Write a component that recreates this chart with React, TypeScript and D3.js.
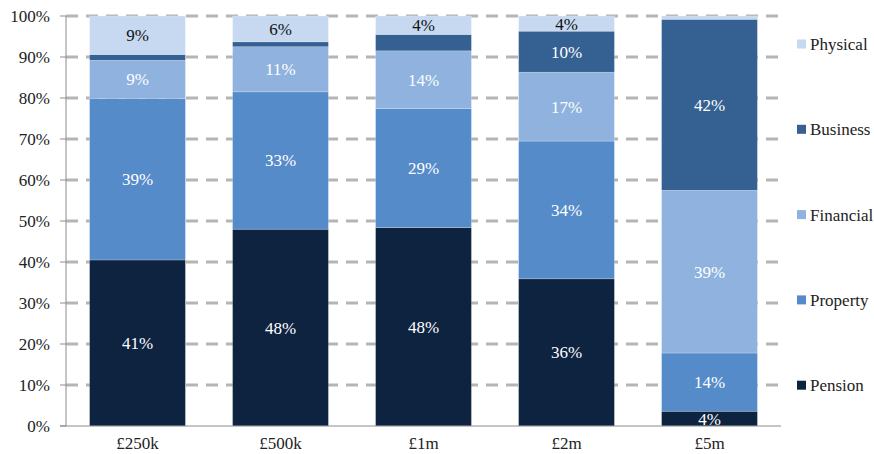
import * as d3 from "d3";

// --- Data ---
const categories = ["£250k", "£500k", "£1m", "£2m", "£5m"];
const seriesNames = ["Pension", "Property", "Financial", "Business", "Physical"];

const pension = [40.5, 48.0, 48.4, 35.9, 3.6];
const property = [39.4, 33.5, 29.0, 33.6, 14.2];
const financial = [9.3, 11.0, 14.1, 16.8, 39.7];
const business = [1.4, 1.2, 4.0, 10.0, 41.7];
const physical = [9.4, 6.3, 4.5, 3.7, 0.8];

// segment labels as printed on the chart ("" = not labelled)
const pensionLabels = ["41%", "48%", "48%", "36%", "4%"];
const propertyLabels = ["39%", "33%", "29%", "34%", "14%"];
const financialLabels = ["9%", "11%", "14%", "17%", "39%"];
const businessLabels = ["", "", "", "10%", "42%"];
const physicalLabels = ["9%", "6%", "4%", "4%", ""];

const yTicks = [0, 10, 20, 30, 40, 50, 60, 70, 80, 90, 100];

const COLORS: Record<string, string> = {
  Pension: "#0e2340",
  Property: "#568bc9",
  Financial: "#8fb3de",
  Business: "#356092",
  Physical: "#c6d9f0",
};

const W = 874;
const H = 454;
const PLOT = { left: 66, right: 781, top: 16, bottom: 426 };
const FONT = "Liberation Serif";
const FONT_STYLE = { fontFamily: '"Liberation Serif"' };
const FS = 17;

export default function App() {
  const values: Record<string, number[]> = {
    Pension: pension,
    Property: property,
    Financial: financial,
    Business: business,
    Physical: physical,
  };
  const labels: Record<string, string[]> = {
    Pension: pensionLabels,
    Property: propertyLabels,
    Financial: financialLabels,
    Business: businessLabels,
    Physical: physicalLabels,
  };

  const rows = categories.map((c, i) => {
    const row: Record<string, number | string> = { cat: c };
    seriesNames.forEach((s) => (row[s] = values[s][i]));
    return row;
  });

  const stacked = d3.stack<any>().keys(seriesNames)(rows);

  const x = d3
    .scaleBand<string>()
    .domain(categories)
    .range([PLOT.left, PLOT.right])
    .paddingInner(0.33)
    .paddingOuter(0.165);

  const y = d3.scaleLinear().domain([0, 100]).range([PLOT.bottom, PLOT.top]);

  return (
    <svg width={W} height={H} style={{ position: "absolute", left: 0, top: 0 }}>
      <style>{`text { font-family: "Liberation Serif", "Times New Roman", Times, serif; }`}</style>
      {/* gridlines */}
      {yTicks
        .filter((t) => t > 0)
        .map((t) => (
          <line
            key={"g" + t}
            x1={PLOT.left}
            x2={PLOT.right}
            y1={y(t)}
            y2={y(t)}
            stroke="#b5b5b5"
            strokeWidth={3}
            strokeDasharray="12 8"
          />
        ))}

      {/* bars */}
      {stacked.map((layer) => (
        <g key={layer.key} fill={COLORS[layer.key]}>
          {layer.map((d, i) => (
            <rect
              key={i}
              x={x(categories[i])}
              y={y(d[1])}
              width={x.bandwidth()}
              height={y(d[0]) - y(d[1])}
              stroke="#ffffff"
              strokeOpacity={0.35}
              strokeWidth={0.6}
            />
          ))}
        </g>
      ))}

      {/* data labels */}
      {stacked.map((layer) =>
        layer.map((d, i) => {
          const txt = labels[layer.key][i];
          if (!txt) return null;
          return (
            <text
              key={layer.key + i}
              x={(x(categories[i]) ?? 0) + x.bandwidth() / 2}
              y={y((d[0] + d[1]) / 2)}
              dy="0.35em"
              textAnchor="middle"
              fontSize={FS}
              fontFamily={FONT}
              style={FONT_STYLE}
              fill={layer.key === "Physical" ? "#111" : "#fff"}
            >
              {txt}
            </text>
          );
        })
      )}

      {/* y axis */}
      <line x1={PLOT.left} x2={PLOT.left} y1={PLOT.top} y2={PLOT.bottom} stroke="#8c8c8c" strokeWidth={1} />
      {yTicks.map((t) => (
        <g key={"t" + t}>
          <line x1={PLOT.left - 6} x2={PLOT.left} y1={y(t)} y2={y(t)} stroke="#8c8c8c" strokeWidth={1} />
          <text
            x={PLOT.left - 16}
            y={y(t)}
            dy="0.35em"
            textAnchor="end"
            fontSize={FS}
            fontFamily={FONT}
            style={FONT_STYLE}
            fill="#222"
          >
            {t}%
          </text>
        </g>
      ))}

      {/* x axis */}
      <line x1={PLOT.left - 6} x2={PLOT.right} y1={PLOT.bottom} y2={PLOT.bottom} stroke="#8c8c8c" strokeWidth={1} />
      {categories.map((c) => (
        <text
          key={c}
          x={(x(c) ?? 0) + x.bandwidth() / 2}
          y={449}
          textAnchor="middle"
          fontSize={FS}
          fontFamily={FONT}
          style={FONT_STYLE}
          fill="#222"
        >
          {c}
        </text>
      ))}

      {/* legend */}
      {[...seriesNames].reverse().map((s, i) => {
        const ly = 44 + i * 85.3;
        return (
          <g key={s}>
            <rect x={797} y={ly - 4.5} width={9} height={9} fill={COLORS[s]} />
            <text x={810} y={ly} dy="0.35em" fontSize={FS} fontFamily={FONT} style={FONT_STYLE} fill="#222">
              {s}
            </text>
          </g>
        );
      })}
    </svg>
  );
}
